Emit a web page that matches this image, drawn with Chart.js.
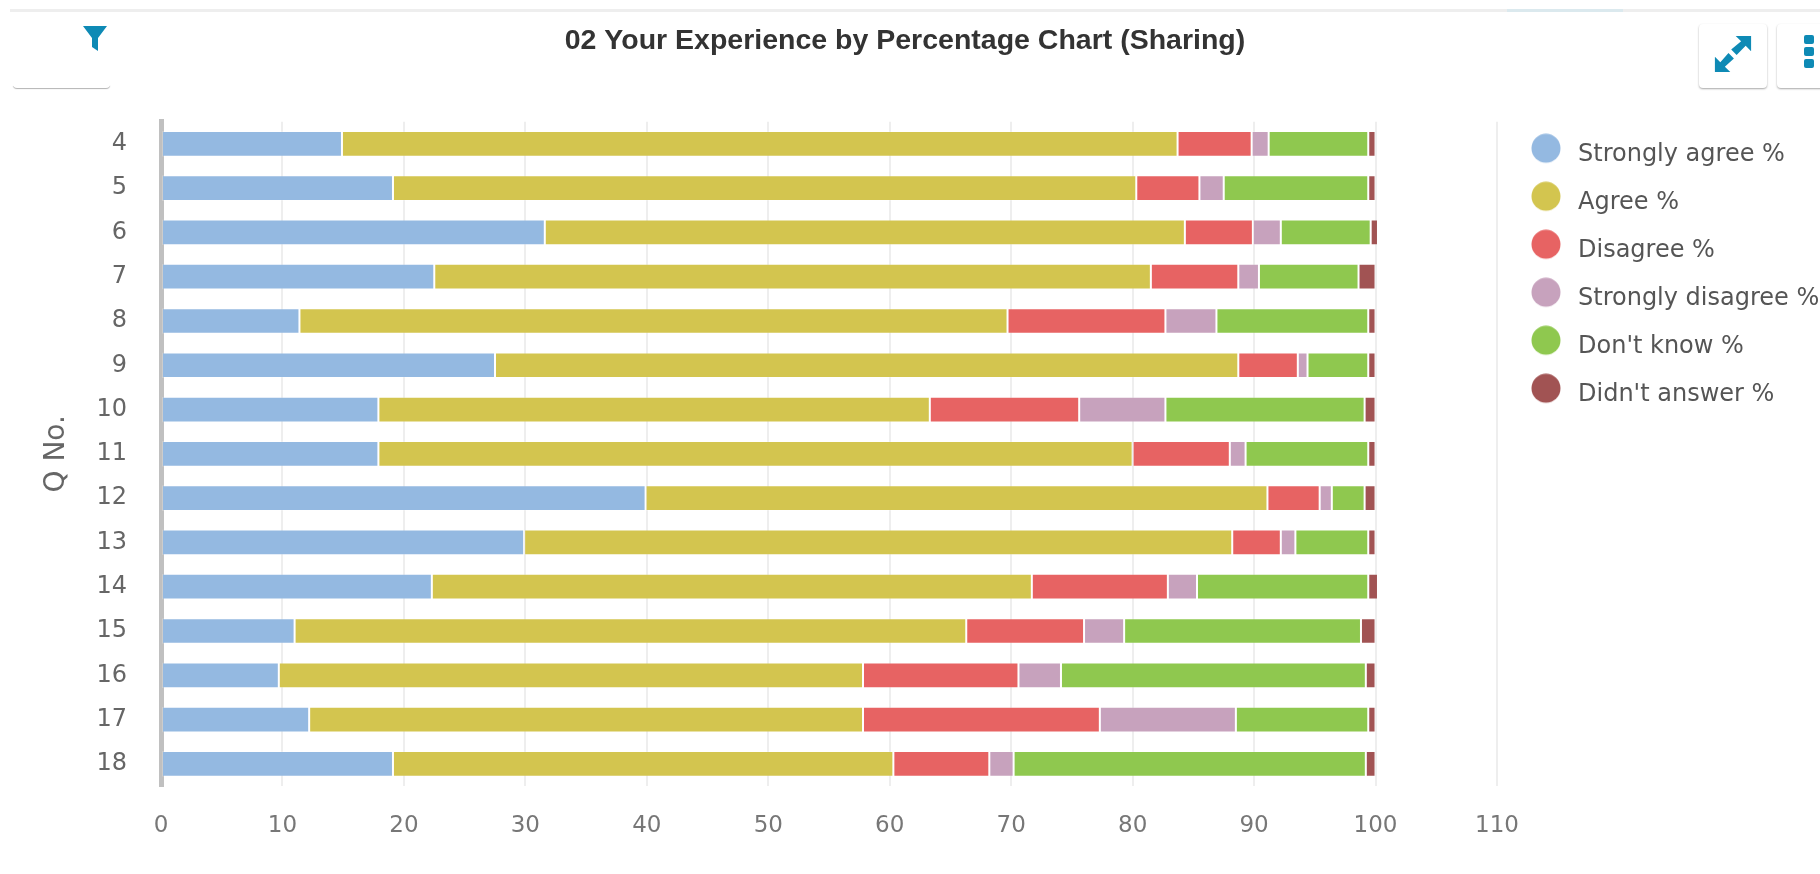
<!DOCTYPE html>
<html>
<head>
<meta charset="utf-8">
<title>02 Your Experience by Percentage Chart (Sharing)</title>
<script src="https://cdn.jsdelivr.net/npm/chart.js@4"></script>
<style>
    html, body { margin: 0; padding: 0; background: #fff; overflow: hidden; }
    #wrap { position: relative; width: 1820px; height: 874px; overflow: hidden; }
    #grafik { position: absolute; left: 0; top: 0; }
    .topline { position: absolute; left: 10px; right: 0; top: 9px; height: 3px; background: #eeeeee; }
    .topline2 { position: absolute; left: 1507px; width: 116px; top: 9px; height: 3px; background: #dbe9ee; }
    .btn { position: absolute; background: #fff; border-radius: 4px; box-shadow: 0 1px 2px rgba(0,0,0,.35); }
    svg { position: absolute; }
</style>
</head>
<body>
<div id="wrap">
    <canvas id="grafik" width="1820" height="874"></canvas>
    <div class="topline"></div>
    <div class="topline2"></div>
    <div class="btn" style="left:13px;top:30px;width:97px;height:58px;box-shadow:0 1px 1px rgba(0,0,0,.3);"></div>
    <div class="btn" style="left:10px;top:20px;width:102px;height:66px;box-shadow:none;"></div>
    <svg style="left:82px;top:25px" width="26" height="28" viewBox="0 0 26 28">
        <path d="M1 1 H25 L16 13 V26 L10 22 V13 Z" fill="#0e8ab5"/>
    </svg>
    <div class="btn" style="left:1699px;top:24px;width:68px;height:64px;"></div>
    <svg style="left:1714px;top:35px" width="38" height="38" viewBox="0 0 42 42">
        <path d="M41 1 H24 L30 7 L19 16 L25 22 L35 12 L41 18 Z M1 41 H18 L12 35 L22 26 L16 20 L7 30 L1 24 Z" fill="#0e8ab5"/>
    </svg>
    <div class="btn" style="left:1777px;top:24px;width:60px;height:64px;"></div>
    <svg style="left:1802px;top:34px" width="14" height="36" viewBox="0 0 14 36">
        <rect x="2" y="1" width="10" height="9" rx="2" fill="#0e8ab5"/>
        <rect x="2" y="13" width="10" height="9" rx="2" fill="#0e8ab5"/>
        <rect x="2" y="25" width="10" height="9" rx="2" fill="#0e8ab5"/>
    </svg>
</div>
<script>
// soru numaralari
const kategoriler = ['4', '5', '6', '7', '8', '9', '10', '11', '12', '13', '14', '15', '16', '17', '18'];

const stronglyAgree    = [14.9, 19.1, 31.6, 22.5, 11.4, 27.5, 17.9, 17.9, 39.9, 29.9, 22.3, 11.0, 9.7, 12.2, 19.1];
const agree            = [68.8, 61.2, 52.7, 59.0, 58.3, 61.2, 45.4, 62.1, 51.2, 58.3, 49.4, 55.3, 48.1, 45.6, 41.2];
const disagree         = [6.1, 5.2, 5.6, 7.2, 13.0, 4.9, 12.3, 8.0, 4.3, 4.0, 11.2, 9.7, 12.8, 19.5, 7.9];
const stronglyDisagree = [1.4, 2.0, 2.3, 1.7, 4.2, 0.8, 7.1, 1.3, 1.0, 1.2, 2.4, 3.3, 3.5, 11.2, 2.0];
const dontKnow         = [8.2, 11.9, 7.4, 8.2, 12.5, 5.0, 16.4, 10.1, 2.7, 6.0, 14.1, 19.5, 25.1, 10.9, 29.0];
const didntAnswer      = [0.6, 0.6, 0.6, 1.4, 0.6, 0.6, 0.9, 0.6, 0.9, 0.6, 0.8, 1.2, 0.8, 0.6, 0.8];

const xTickDegerleri = [0, 10, 20, 30, 40, 50, 60, 70, 80, 90, 100, 110];

function seri(ad, veri, renk) {
    return {
        label: ad,
        data: veri,
        backgroundColor: renk,
        borderColor: 'rgba(255,255,255,0.2)',
        borderWidth: 1,
        borderSkipped: false,
        barPercentage: 0.58,
        categoryPercentage: 1
    };
}

// lejant dairesi: yazidan biraz yukarida duruyor
function daire(renk) {
    const c = document.createElement('canvas');
    c.width = 30;
    c.height = 44;
    const x = c.getContext('2d');
    x.fillStyle = renk;
    x.beginPath();
    x.arc(15, 15, 14.5, 0, Math.PI * 2);
    x.fill();
    return c;
}

const yaziTipi = '"DejaVu Sans", sans-serif';

// lejant genisligini sabitle, sonra yerine oturt
const lejantAyari = {
    id: 'lejantAyari',
    beforeUpdate(chart) {
        const lejant = chart.legend;
        if (lejant && !lejant.sabit) {
            const eskiFit = lejant.fit;
            lejant.fit = function () {
                eskiFit.call(this);
                this.width = 313;
            };
            lejant.sabit = true;
        }
    },
    afterLayout(chart) {
        chart.legend.top -= 2.5;
        chart.legend.left += 5;
        chart.legend.right = 1830;
    }
};

new Chart(document.getElementById('grafik').getContext('2d'), {
    type: 'bar',
    plugins: [lejantAyari],
    data: {
        labels: kategoriler,
        datasets: [
            seri('Strongly agree %', stronglyAgree, '#94b9e1'),
            seri('Agree %', agree, '#d3c54f'),
            seri('Disagree %', disagree, '#e76363'),
            seri('Strongly disagree %', stronglyDisagree, '#c7a2bd'),
            seri("Don't know %", dontKnow, '#8fc84f'),
            seri("Didn't answer %", didntAnswer, '#a15353')
        ]
    },
    options: {
        indexAxis: 'y',
        responsive: false,
        animation: false,
        layout: { padding: { left: 0, right: 10, top: 0, bottom: 0 } },
        plugins: {
            tooltip: { enabled: false },
            title: {
                display: true,
                text: '02 Your Experience by Percentage Chart (Sharing)',
                color: '#333333',
                font: { family: '"Liberation Sans", Arial, sans-serif', size: 28.5, weight: 'bold' },
                padding: { top: 24, bottom: 63.5 }
            },
            legend: {
                position: 'right',
                align: 'start',
                fullSize: false,
                labels: {
                    usePointStyle: true,
                    pointStyleWidth: 40,
                    boxHeight: 20.5,
                    padding: 24,
                    color: '#555555',
                    font: { family: yaziTipi, size: 24 },
                    generateLabels: function (chart) {
                        const ogeler = Chart.defaults.plugins.legend.labels.generateLabels(chart);
                        ogeler.forEach(o => { o.pointStyle = daire(o.fillStyle); });
                        return ogeler;
                    }
                }
            }
        },
        scales: {
            x: {
                stacked: true,
                min: 0,
                max: 110,
                afterBuildTicks: function (scale) {
                    scale.ticks = xTickDegerleri.map(v => ({ value: v }));
                },
                afterFit: function (scale) { scale.height = 88; },
                grid: { color: '#eeeeee', lineWidth: 2, drawTicks: false },
                border: { display: false },
                ticks: { color: '#777777', padding: 26, font: { family: yaziTipi, size: 23 }, maxRotation: 0 }
            },
            y: {
                stacked: true,
                afterFit: function (scale) { scale.width = 161; },
                grid: { display: false, drawTicks: false },
                border: { display: true, color: '#c0c0c0', width: 5 },
                ticks: { color: '#666666', padding: 34, font: { family: yaziTipi, size: 24 } },
                title: {
                    display: true,
                    text: 'Q No.',
                    color: '#666666',
                    font: { family: yaziTipi, size: 28 },
                    padding: { top: 40, bottom: 0 }
                }
            }
        }
    }
});
</script>
</body>
</html>
